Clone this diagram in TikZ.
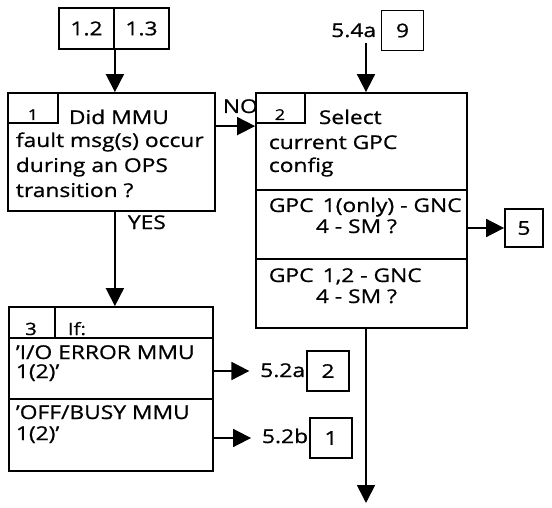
\documentclass[tikz,border=0pt]{standalone}
\usepackage{fontspec}
\setmainfont{Open Sans}[FakeStretch=1.2, FakeBold=0.8]
\usetikzlibrary{arrows.meta,fit,positioning}

\begin{document}
\begin{tikzpicture}[x=0.5pt, y=-0.5pt, line width=0.9pt,
  every node/.style={font=\fontsize{9.5}{11}\selectfont},
  blk/.style={draw, inner sep=0pt, fit={#1}},
  rbox/.style={draw, inner sep=0pt, minimum width=21pt, minimum height=20pt},
  txt/.style={inner sep=0pt, anchor=base west},
  num/.style={inner sep=0pt, anchor=base, font=\fontsize{7.5}{9}\selectfont},
  arr/.style={-{Triangle[length=9pt, width=9pt]}}]
\useasboundingbox (0,0) rectangle (552,508);

%references on top
\node[rbox, minimum width=27.5pt, minimum height=20.5pt] (r12) at (86.5,28.5) {1.2};
\node[rbox, minimum width=27.5pt, minimum height=20.5pt] (r13) at (141.5,28.5) {1.3};
\node[rbox] (r9) at (402.5,30.5) {9};
\node[txt, anchor=base east] (l54) at (377,37) {5.4a};
\coordinate (c54) at (366,43);

%box 1
\node[blk={(8,93) (215,211)}] (q1) {};
\node[blk={(8,93) (58,123)}] (q1n) {};
\node[num] (q1k) at (33,120) {1};
\node[txt] (q1a) at (68,124) {Did MMU};
\node[txt] (q1b) at (15,147) {fault msg(s) occur};
\node[txt] (q1c) at (15,172) {during an OPS};
\node[txt] (q1d) at (15,197) {transition ?};
\node[txt] (lno) at (222,113) {NO};
\node[txt] (lyes) at (127,229) {YES};

%box 2
\node[blk={(256,93) (467,190)}] (q2) {};
\node[blk={(256,190) (467,259)}] (q2y) {};
\node[blk={(256,259) (467,328)}] (q2z) {};
\node[blk={(256,93) (305,123)}] (q2n) {};
\node[num] (q2k) at (280,120) {2};
\node[txt] (q2a) at (318,124) {Select};
\node[txt] (q2b) at (268,149) {current GPC};
\node[txt] (q2c) at (268,172) {config};
\node[txt] (q2d) at (268,212) {GPC\, 1(only) - GNC};
\node[txt] (q2e) at (315,233) {4 - SM ?};
\node[txt] (q2f) at (268,282) {GPC\, 1,2 - GNC};
\node[txt] (q2g) at (315,303) {4 - SM ?};
\node[rbox, minimum width=19pt, minimum height=19pt] (r5) at (524,228) {5};
\coordinate (c2end) at (366,503);

%box 3
\node[blk={(9,307) (213,338)}] (q3) {};
\node[blk={(9,307) (55,338)}] (q3n) {};
\node[blk={(9,338) (213,399)}] (q3y) {};
\node[blk={(9,399) (213,471)}] (q3z) {};
\node[num, font=\fontsize{8.5}{10}\selectfont] (q3k) at (31,335) {3};
\node[txt, font=\fontsize{8.5}{10}\selectfont] (q3a) at (67,335) {If:};
\node[txt] (q3b) at (15,359) {'I/O ERROR MMU};
\node[txt] (q3c) at (15,378) {1(2)'};
\node[txt] (q3d) at (15,419) {'OFF/BUSY MMU};
\node[txt] (q3e) at (15,440) {1(2)'};
\node[rbox] (r2) at (328,371) {2};
\node[txt, anchor=base east] (l52a) at (306,377) {5.2a};
\node[rbox] (r1) at (331,438) {1};
\node[txt, anchor=base east] (l52b) at (309,443) {5.2b};

%connectors
\draw[arr] (r12.south east) -- (r12.south east |- q1.north);
\draw[arr] (c54) -- (c54 |- q2.north);
\draw[arr] ([yshift=-17pt]q1.north east) -- ([yshift=-17pt]q2.north west);
\draw[arr] (r12.south east |- q1.south) -- (r12.south east |- q3.north);
\draw[arr] (q2y.east |- r5.west) -- (r5.west);
\draw[arr] (q3y.east |- r2.west) -- ([xshift=-5pt]l52a.west |- r2.west);
\draw[arr] (q3z.east |- r1.west) -- ([xshift=-5pt]l52b.west |- r1.west);
\draw[arr] (q2z.south -| c2end) -- (c2end);
\end{tikzpicture}
\end{document}
